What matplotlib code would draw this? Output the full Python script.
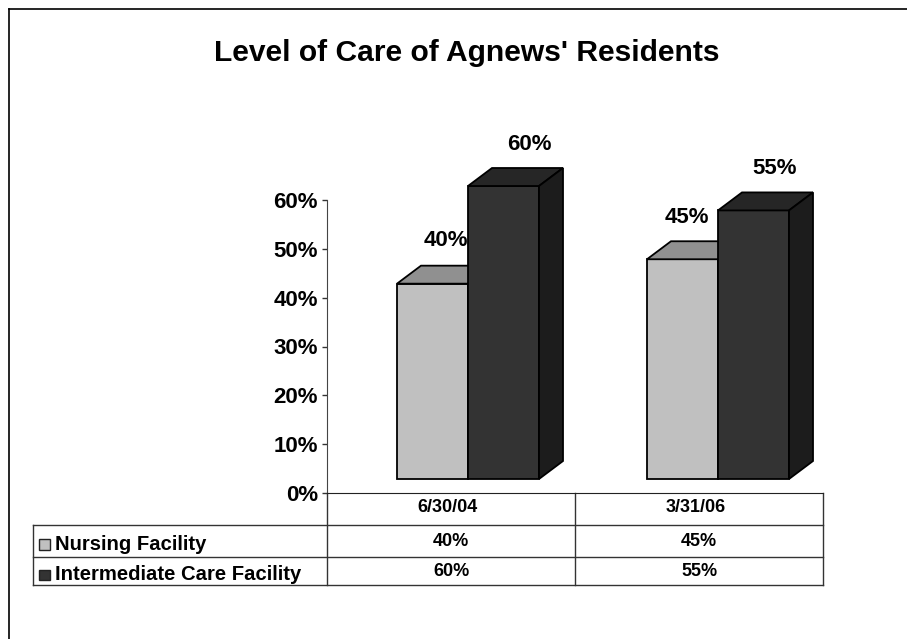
import matplotlib
matplotlib.use("Agg")
import matplotlib.pyplot as plt
from matplotlib.patches import Rectangle

plt.rcParams["font.family"] = ["Liberation Sans", "DejaVu Sans"]
plt.rcParams["font.weight"] = "bold"

title = "Level of Care of Agnews' Residents"
categories = ["6/30/04", "3/31/06"]
nursing = [40, 45]
intermediate = [60, 55]
series_names = ["Nursing Facility", "Intermediate Care Facility"]
y_ticks = [0, 10, 20, 30, 40, 50, 60]

W, H = 907, 639
AX_LEFT, AX_RIGHT, AX_TOP, AX_BOTTOM = 327, 823, 200, 493
TABLE_LEFT = 33
ROW_Y = [493, 525, 557, 585]

fig = plt.figure(figsize=(W / 100, H / 100), dpi=100)

# overlay in pixel coords for the frame, title and data table
over = fig.add_axes([0, 0, 1, 1])
over.set_xlim(0, W)
over.set_ylim(H, 0)
over.axis("off")

ax = fig.add_axes([AX_LEFT / W, 1 - AX_BOTTOM / H, (AX_RIGHT - AX_LEFT) / W, (AX_BOTTOM - AX_TOP) / H])
ax.set_xlim(0, 2)
ax.set_ylim(0, 60)
ax.patch.set_alpha(0)
for s in ["top", "right"]:
    ax.spines[s].set_visible(False)
ax.spines["left"].set_color("#444444")
ax.spines["bottom"].set_color("#222222")
ax.set_xticks([])
ax.set_yticks(y_ticks)
ax.set_yticklabels([f"{v}%" for v in y_ticks], fontsize=16, fontweight="bold")
ax.tick_params(axis="y", length=3.6, width=1, pad=3, color="#333333")

# fake 3d depth, converted from pixels to data units
px_x = 2 / (AX_RIGHT - AX_LEFT)
px_y = 60 / (AX_BOTTOM - AX_TOP)
dx = 24 * px_x
dy = 18 * px_y
base = 14 * px_y
bar_w = 71 * px_x
group_shift = [17 * px_x, 19 * px_x]
EDGE = 1.3


def bar3d(x, v, front, top, side):
    ax.bar(x, v, bar_w, bottom=base, align="edge", color=front, edgecolor="black", linewidth=EDGE, zorder=3, clip_on=False)
    y1 = base + v
    ax.fill([x, x + dx, x + bar_w + dx, x + bar_w], [y1, y1 + dy, y1 + dy, y1], facecolor=top, edgecolor="black", linewidth=EDGE, zorder=3, clip_on=False)
    ax.fill([x + bar_w, x + bar_w + dx, x + bar_w + dx, x + bar_w], [base, base + dy, y1 + dy, y1], facecolor=side, edgecolor="black", linewidth=EDGE, zorder=3, clip_on=False)


label_off = {0: [(13, 43), (26, 42)], 1: [(4, 42), (21, 42)]}
for i in range(len(categories)):
    left = i + 0.5 + group_shift[i] - bar_w
    bar3d(left, nursing[i], "#C0C0C0", "#909090", "#606060")
    bar3d(left + bar_w, intermediate[i], "#333333", "#262626", "#1C1C1C")
    for j, (xx, v) in enumerate([(left, nursing[i]), (left + bar_w, intermediate[i])]):
        ox, oy = label_off[i][j]
        ax.annotate(f"{v}%", (xx + bar_w / 2, base + v), xytext=(ox * 0.72, oy * 0.72), textcoords="offset points",
                    ha="center", va="center", fontsize=16, fontweight="bold", annotation_clip=False, zorder=5)

# frame, open on the right and bottom
over.plot([9, 9], [H, 9], color="black", lw=1.2)
over.plot([9, W], [9, 9], color="black", lw=1.2)

over.text(467, 53, title, ha="center", va="center", fontsize=21.6, fontweight="bold")

# data table
line_col = "#333333"
for y in ROW_Y[1:]:
    over.plot([TABLE_LEFT, AX_RIGHT], [y, y], color=line_col, lw=1)
over.plot([TABLE_LEFT, TABLE_LEFT], [ROW_Y[1], ROW_Y[3]], color=line_col, lw=1)
for x in [327, 575, AX_RIGHT]:
    over.plot([x, x], [ROW_Y[0], ROW_Y[3]], color=line_col, lw=1)

col_x = [451, 699]
for cx, cat in zip(col_x, categories):
    over.text(cx - 3, 508, cat, ha="center", va="center", fontsize=13)
rows = [(series_names[0], nursing, "#C0C0C0", 544), (series_names[1], intermediate, "#333333", 574.5)]
for row, vals, color, yc in rows:
    over.add_patch(Rectangle((39, yc - 5), 10.5, 10.5, facecolor=color, edgecolor="#222222", lw=1))
    over.text(55, yc, row, ha="left", va="center", fontsize=14.6)
    for cx, v in zip(col_x, vals):
        over.text(cx, yc - 2.5, f"{v}%", ha="center", va="center", fontsize=13)

fig.savefig("out.png", dpi=100)
